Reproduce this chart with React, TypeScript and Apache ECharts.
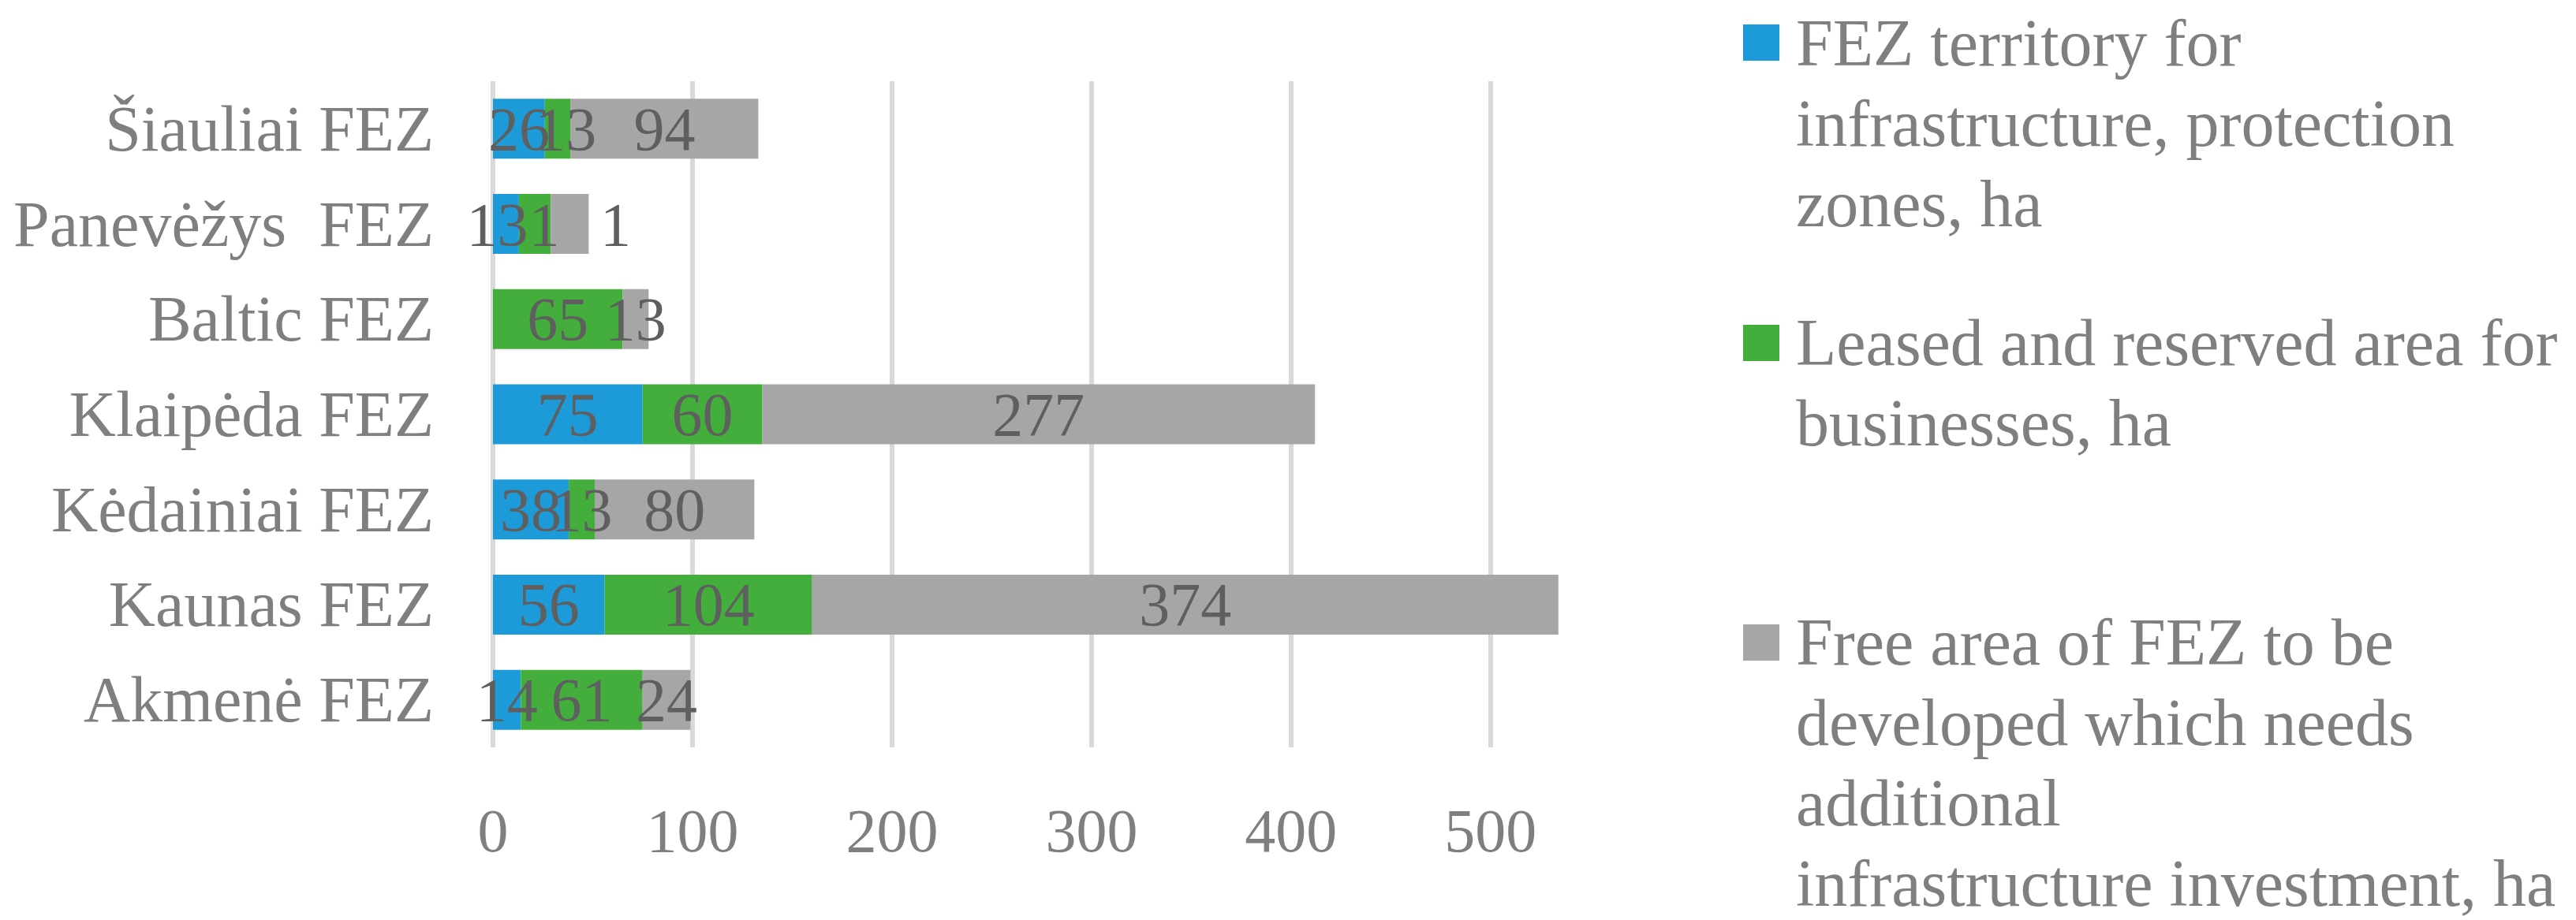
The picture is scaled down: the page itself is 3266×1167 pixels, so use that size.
import React, { useEffect, useRef } from "react";
import * as echarts from "echarts";

const categories = [
  "Akmenė FEZ",
  "Kaunas FEZ",
  "Kėdainiai FEZ",
  "Klaipėda FEZ",
  "Baltic FEZ",
  "Panevėžys  FEZ",
  "Šiauliai FEZ",
];

const seriesNames = [
  "FEZ territory for infrastructure, protection zones, ha",
  "Leased and reserved area for businesses, ha",
  "Free area of FEZ to be developed which needs additional infrastructure investment, ha",
];

const legendLines = [
  ["FEZ territory for", "infrastructure, protection", "zones, ha"],
  ["Leased and reserved area for", "businesses, ha"],
  ["Free area of FEZ to be", "developed which needs", "additional", "infrastructure investment, ha"],
];

const territory = [14, 56, 38, 75, 0, 13, 26];
const leased = [61, 104, 13, 60, 65, 16, 13];
const free = [24, 374, 80, 277, 13, 19, 94];

const territoryLabels = ["14", "56", "38", "75", "", "13", "26"];
const leasedLabels = ["61", "104", "13", "60", "65", "1", "13"];
const freeLabels = ["24", "374", "80", "277", "13", "1", "94"];

const xTicks = [0, 100, 200, 300, 400, 500];

const colors = ["#1c9bd8", "#43ae3b", "#a6a6a6"];

// label offsets (x px) for individual labels, by category index
const labelOffsets: Record<number, number>[] = [{ 5: -11 }, { 5: 12, 6: 10 }, { 5: 58 }];

const FONT = "'Liberation Serif', 'Times New Roman', serif";
const FS = 78;
const FS_CAT = 82;
const FS_LEG = 84;

export default function App() {
  const ref = useRef<HTMLDivElement>(null);
  useEffect(() => {
    if (!ref.current) return;
    const chart = echarts.init(ref.current, undefined, { renderer: "svg" });
    const values = [territory, leased, free];
    const labels = [territoryLabels, leasedLabels, freeLabels];

    const series = values.map((vals, si) => ({
      name: seriesNames[si],
      type: "bar",
      stack: "total",
      barWidth: 76,
      itemStyle: { color: colors[si] },
      label: {
        show: true,
        position: "inside",
        color: "#5f5f5f",
        fontFamily: FONT,
        fontSize: FS,
        formatter: (p: any) => labels[si][p.dataIndex],
      },
      data: vals.map((v, i) => {
        const off = labelOffsets[si][i];
        return off !== undefined ? { value: v, label: { offset: [off, 0] } } : v;
      }),
    }));

    const graphics: any[] = [];
    const markerY = [31, 412, 792];
    const firstLine = [54, 434, 814];
    legendLines.forEach((lines, i) => {
      graphics.push({
        type: "rect",
        shape: { x: 2210, y: markerY[i], width: 46, height: 46 },
        style: { fill: colors[i] },
      });
      graphics.push({
        type: "text",
        x: 2277,
        y: firstLine[i] - 51,
        style: {
          text: lines.join("\n"),
          font: `${FS_LEG}px ${FONT}`,
          fill: "#7f7f7f",
          lineHeight: 102,
          verticalAlign: "top",
          align: "left",
        },
      });
    });

    chart.setOption({
      animation: false,
      backgroundColor: "#ffffff",
      legend: { show: false, data: seriesNames },
      grid: { left: 625, right: 1275, top: 103, height: 845, containLabel: false },
      xAxis: {
        type: "value",
        min: xTicks[0],
        max: 540,
        interval: xTicks[1] - xTicks[0],
        axisLine: { show: false },
        axisTick: { show: false },
        splitLine: {
          show: true,
          showMaxLine: false,
          lineStyle: { color: "#d9d9d9", width: 6 },
        },
        axisLabel: {
          color: "#7f7f7f",
          fontFamily: FONT,
          fontSize: FS,
          margin: 66,
          showMaxLabel: false,
          formatter: (v: number) => (xTicks.includes(v) ? String(v) : ""),
        },
      },
      yAxis: {
        type: "category",
        data: categories,
        axisLine: { show: false },
        axisTick: { show: false },
        splitLine: { show: false },
        axisLabel: {
          color: "#7f7f7f",
          fontFamily: FONT,
          fontSize: FS_CAT,
          margin: 75,
        },
      },
      graphic: graphics,
      series,
    });
    return () => chart.dispose();
  }, []);
  return (
    <div
      ref={ref}
      style={{ position: "absolute", left: 0, top: 0, width: 3266, height: 1167 }}
    />
  );
}
